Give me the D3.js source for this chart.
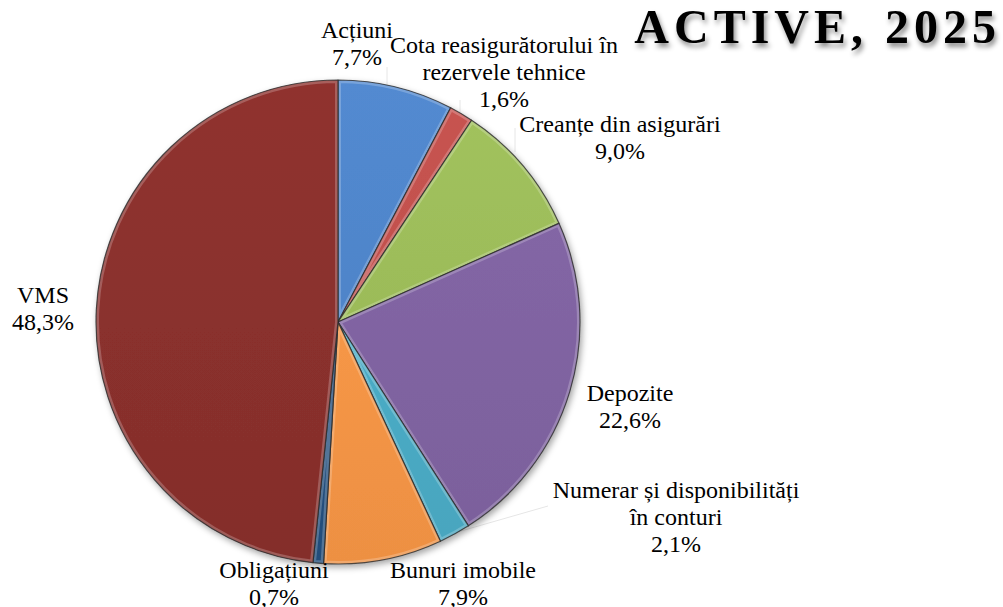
<!DOCTYPE html>
<html><head><meta charset="utf-8">
<script src="https://cdn.jsdelivr.net/npm/d3@7"></script>
<style>html,body{margin:0;padding:0;background:#fff;}svg{display:block;}</style>
</head><body>
<svg id="chart" width="1003" height="607"></svg>
<script>
// ---- data ----
const categories = ["Acțiuni","Cota reasigurătorului în rezervele tehnice","Creanțe din asigurări","Depozite","Numerar și disponibilități în conturi","Bunuri imobile","Obligațiuni","VMS"];
const values = [7.7, 1.6, 9.0, 22.6, 2.1, 7.9, 0.7, 48.3];
const valueLabels = ["7,7%","1,6%","9,0%","22,6%","2,1%","7,9%","0,7%","48,3%"];
const labelLines = [["Acțiuni"],["Cota reasigurătorului în","rezervele tehnice"],["Creanțe din asigurări"],["Depozite"],["Numerar și disponibilități","în conturi"],["Bunuri imobile"],["Obligațiuni"],["VMS"]];
const title = "ACTIVE, 2025";

// ---- style / layout ----
const colors = ["#4f84c8","#c0504d","#9bbb59","#8064a2","#4bacc6","#f79646","#24507f","#8a302d"];
const labelPos = [[357,38],[504,53],[620,132],[630,401],[676,498],[463,578],[274,578],[43,303]];
const leaders = [[[387,67],[387,86]],[[460,100],[460,112]],[[515,128],[515,152]],[[454,533],[548,506]]];
const cx = 338, cy = 322, R = 242, lineH = 27;

const svg = d3.select("#chart");
const defs = svg.append("defs");

const sh = defs.append("filter").attr("id","shadow").attr("x","-10%").attr("y","-10%").attr("width","120%").attr("height","120%");
sh.append("feDropShadow").attr("dx",2).attr("dy",3).attr("stdDeviation",3).attr("flood-color","#000").attr("flood-opacity",0.35);
const tsh = defs.append("filter").attr("id","tshadow").attr("x","-10%").attr("y","-30%").attr("width","120%").attr("height","160%");
tsh.append("feDropShadow").attr("dx",2).attr("dy",4).attr("stdDeviation",2.5).attr("flood-color","#000").attr("flood-opacity",0.45);

colors.forEach((c,i)=>{
  const g = defs.append("linearGradient").attr("id","g"+i)
    .attr("gradientUnits","userSpaceOnUse").attr("x1",0).attr("y1",-R).attr("x2",0).attr("y2",R);
  g.append("stop").attr("offset","0%").attr("stop-color",d3.color(c).brighter(0.12));
  g.append("stop").attr("offset","100%").attr("stop-color",d3.color(c).darker(0.12));
});

const pie = d3.pie().sort(null).value(d=>d);
const arcs = pie(values);
const arc = d3.arc().innerRadius(0).outerRadius(R);

arcs.forEach((a,i)=>{
  defs.append("clipPath").attr("id","cl"+i).append("path").attr("d",arc(a));
});

// leader lines
svg.append("g").selectAll("line").data(leaders).join("line")
  .attr("x1",d=>d[0][0]).attr("y1",d=>d[0][1]).attr("x2",d=>d[1][0]).attr("y2",d=>d[1][1])
  .attr("stroke","#e6e6e6").attr("stroke-width",1);

const pg = svg.append("g").attr("transform",`translate(${cx},${cy})`).attr("filter","url(#shadow)");
const sl = pg.selectAll("g.s").data(arcs).join("g").attr("class","s");
sl.append("path").attr("d",arc).attr("fill",(d,i)=>`url(#g${i})`);
// inner bevel highlight
sl.append("path").attr("d",arc)
  .attr("fill","none").attr("stroke","#fff").attr("stroke-opacity",0.22).attr("stroke-width",6)
  .attr("clip-path",(d,i)=>`url(#cl${i})`);
sl.append("path").attr("d",arc).attr("fill","none").attr("stroke","#2a2a2a").attr("stroke-opacity",0.8).attr("stroke-width",1.2).attr("stroke-linejoin","round");

// labels
const lg = svg.append("g").attr("font-family","'Liberation Serif','Times New Roman',serif").attr("font-size",24).attr("fill","#000").attr("text-anchor","middle");
categories.forEach((c,i)=>{
  const t = lg.append("text").attr("x",labelPos[i][0]).attr("y",labelPos[i][1]);
  const lines = labelLines[i].concat([valueLabels[i]]);
  lines.forEach((l,j)=>{
    t.append("tspan").attr("x",labelPos[i][0]).attr("dy",j===0?0:lineH).text(l);
  });
});

// title
svg.append("text").attr("x",1001).attr("y",43).attr("text-anchor","end")
  .attr("font-family","'Liberation Serif','Times New Roman',serif").attr("font-weight","bold")
  .attr("font-size",48).attr("letter-spacing",5).attr("filter","url(#tshadow)").text(title);
</script>
</body></html>
